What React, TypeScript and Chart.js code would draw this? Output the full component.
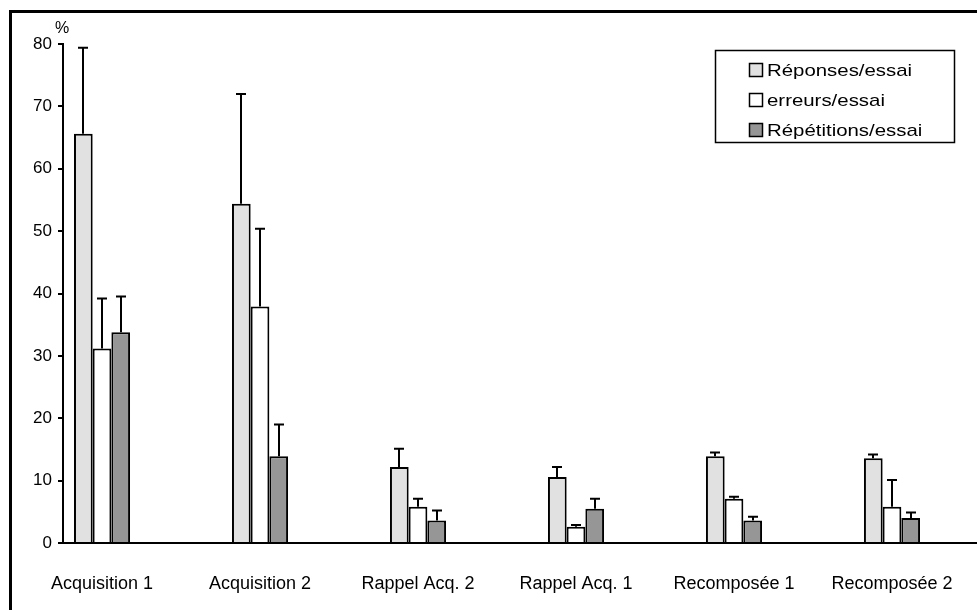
import React, { useEffect, useRef } from "react";
import { Chart, registerables } from "chart.js";

Chart.register(...registerables);

const categories = ["Acquisition 1", "Acquisition 2", "Rappel Acq. 2", "Rappel Acq. 1", "Recomposée 1", "Recomposée 2"];
const seriesNames = ["Réponses/essai", "erreurs/essai", "Répétitions/essai"];
const reponses = [65.6, 54.4, 12.2, 10.6, 13.9, 13.6];
const reponsesErr = [13.8, 17.6, 2.9, 1.6, 0.6, 0.6];
const erreurs = [31.2, 37.9, 5.8, 2.6, 7.1, 5.8];
const erreursErr = [8.0, 12.5, 1.3, 0.3, 0.3, 4.3];
const repetitions = [33.8, 13.9, 3.6, 5.5, 3.6, 4.0];
const repetitionsErr = [5.7, 5.1, 1.6, 1.6, 0.6, 0.9];
const yTicks = [0, 10, 20, 30, 40, 50, 60, 70, 80];
const colors = ["#e1e1e1", "#ffffff", "#969696"];

const FONT = '"Liberation Sans", Arial, sans-serif';

const errorsBySeries = [reponsesErr, erreursErr, repetitionsErr];
const valuesBySeries = [reponses, erreurs, repetitions];

const decorPlugin = {
  id: "decor",
  afterDatasetsDraw(chart: any) {
    const ctx = chart.ctx;
    const y = chart.scales.y;
    ctx.save();
    ctx.strokeStyle = "#000";
    ctx.lineWidth = 2;
    valuesBySeries.forEach((vals, di) => {
      const meta = chart.getDatasetMeta(di);
      meta.data.forEach((el: any, j: number) => {
        const top = y.getPixelForValue(vals[j] + errorsBySeries[di][j]);
        const x = Math.round(el.x);
        ctx.beginPath();
        ctx.moveTo(x, el.y);
        ctx.lineTo(x, top);
        ctx.moveTo(x - 5, top);
        ctx.lineTo(x + 5, top);
        ctx.stroke();
      });
    });
    ctx.restore();
  },
  afterDraw(chart: any) {
    const ctx = chart.ctx;
    ctx.save();
    // outer frame
    ctx.fillStyle = "#000";
    ctx.fillRect(9, 10, 3, 600);
    ctx.fillRect(9, 10, 968, 3);
    // unit label
    ctx.font = "16px " + FONT;
    ctx.textAlign = "center";
    ctx.textBaseline = "middle";
    ctx.fillText("%", 62, 29);
    // legend
    ctx.lineWidth = 1.5;
    ctx.strokeStyle = "#000";
    ctx.strokeRect(715.5, 50.5, 239, 92);
    ctx.font = "17px " + FONT;
    ctx.textAlign = "left";
    seriesNames.forEach((name, i) => {
      const cy = 70 + i * 30;
      ctx.fillStyle = colors[i];
      ctx.fillRect(749.5, cy - 6.5, 13, 13);
      ctx.lineWidth = 1.5;
      ctx.strokeRect(749.5, cy - 6.5, 13, 13);
      ctx.fillStyle = "#000";
      ctx.save();
      ctx.translate(767, cy + 1);
      ctx.scale(1.2, 1);
      ctx.fillText(name, 0, 0);
      ctx.restore();
    });
    ctx.restore();
  },
};

export default function App() {
  const ref = useRef<HTMLCanvasElement>(null);
  useEffect(() => {
    if (!ref.current) return;
    const chart = new Chart(ref.current, {
      type: "bar",
      data: {
        datasets: valuesBySeries.map((vals, di) => ({
          label: seriesNames[di],
          data: vals.map((v, i) => ({ x: i, y: v })),
          backgroundColor: colors[di],
          borderColor: "#000",
          borderWidth: 2,
          barPercentage: 1,
          categoryPercentage: 0.355,
        })),
      },
      options: {
        animation: false,
        responsive: true,
        maintainAspectRatio: false,
        layout: { padding: { left: 0, right: 0, top: 44, bottom: 0 } },
        plugins: { legend: { display: false }, tooltip: { enabled: false } },
        scales: {
          x: {
            type: "linear",
            min: -0.247,
            max: 5.538,
            offset: false,
            grid: { display: false, drawTicks: false },
            border: { display: true, color: "#000", width: 2 },
            afterBuildTicks: (s: any) => {
              s.ticks = categories.map((_, i) => ({ value: i }));
            },
            afterFit: (s: any) => {
              s.height = 67;
              s.paddingLeft = 0;
              s.paddingRight = 0;
            },
            ticks: {
              autoSkip: false,
              maxRotation: 0,
              padding: 30,
              color: "#000",
              font: { family: FONT, size: 18 },
              callback: (v: any) => categories[v] ?? "",
            },
          },
          y: {
            min: 0,
            max: 80,
            afterBuildTicks: (s: any) => {
              s.ticks = yTicks.map((v) => ({ value: v }));
            },
            afterFit: (s: any) => {
              s.width = 63;
              s.paddingTop = 0;
              s.paddingBottom = 0;
            },
            grid: {
              display: true,
              drawOnChartArea: false,
              drawTicks: true,
              tickLength: 5,
              color: "#000",
              lineWidth: 2,
            },
            border: { display: true, color: "#000", width: 2 },
            ticks: {
              padding: 6,
              color: "#000",
              font: { family: FONT, size: 17 },
            },
          },
        },
      },
      plugins: [decorPlugin],
    });
    return () => chart.destroy();
  }, []);
  return (
    <div style={{ position: "fixed", left: 0, top: 0, width: 977, height: 610, background: "#fff" }}>
      <canvas ref={ref} />
    </div>
  );
}
